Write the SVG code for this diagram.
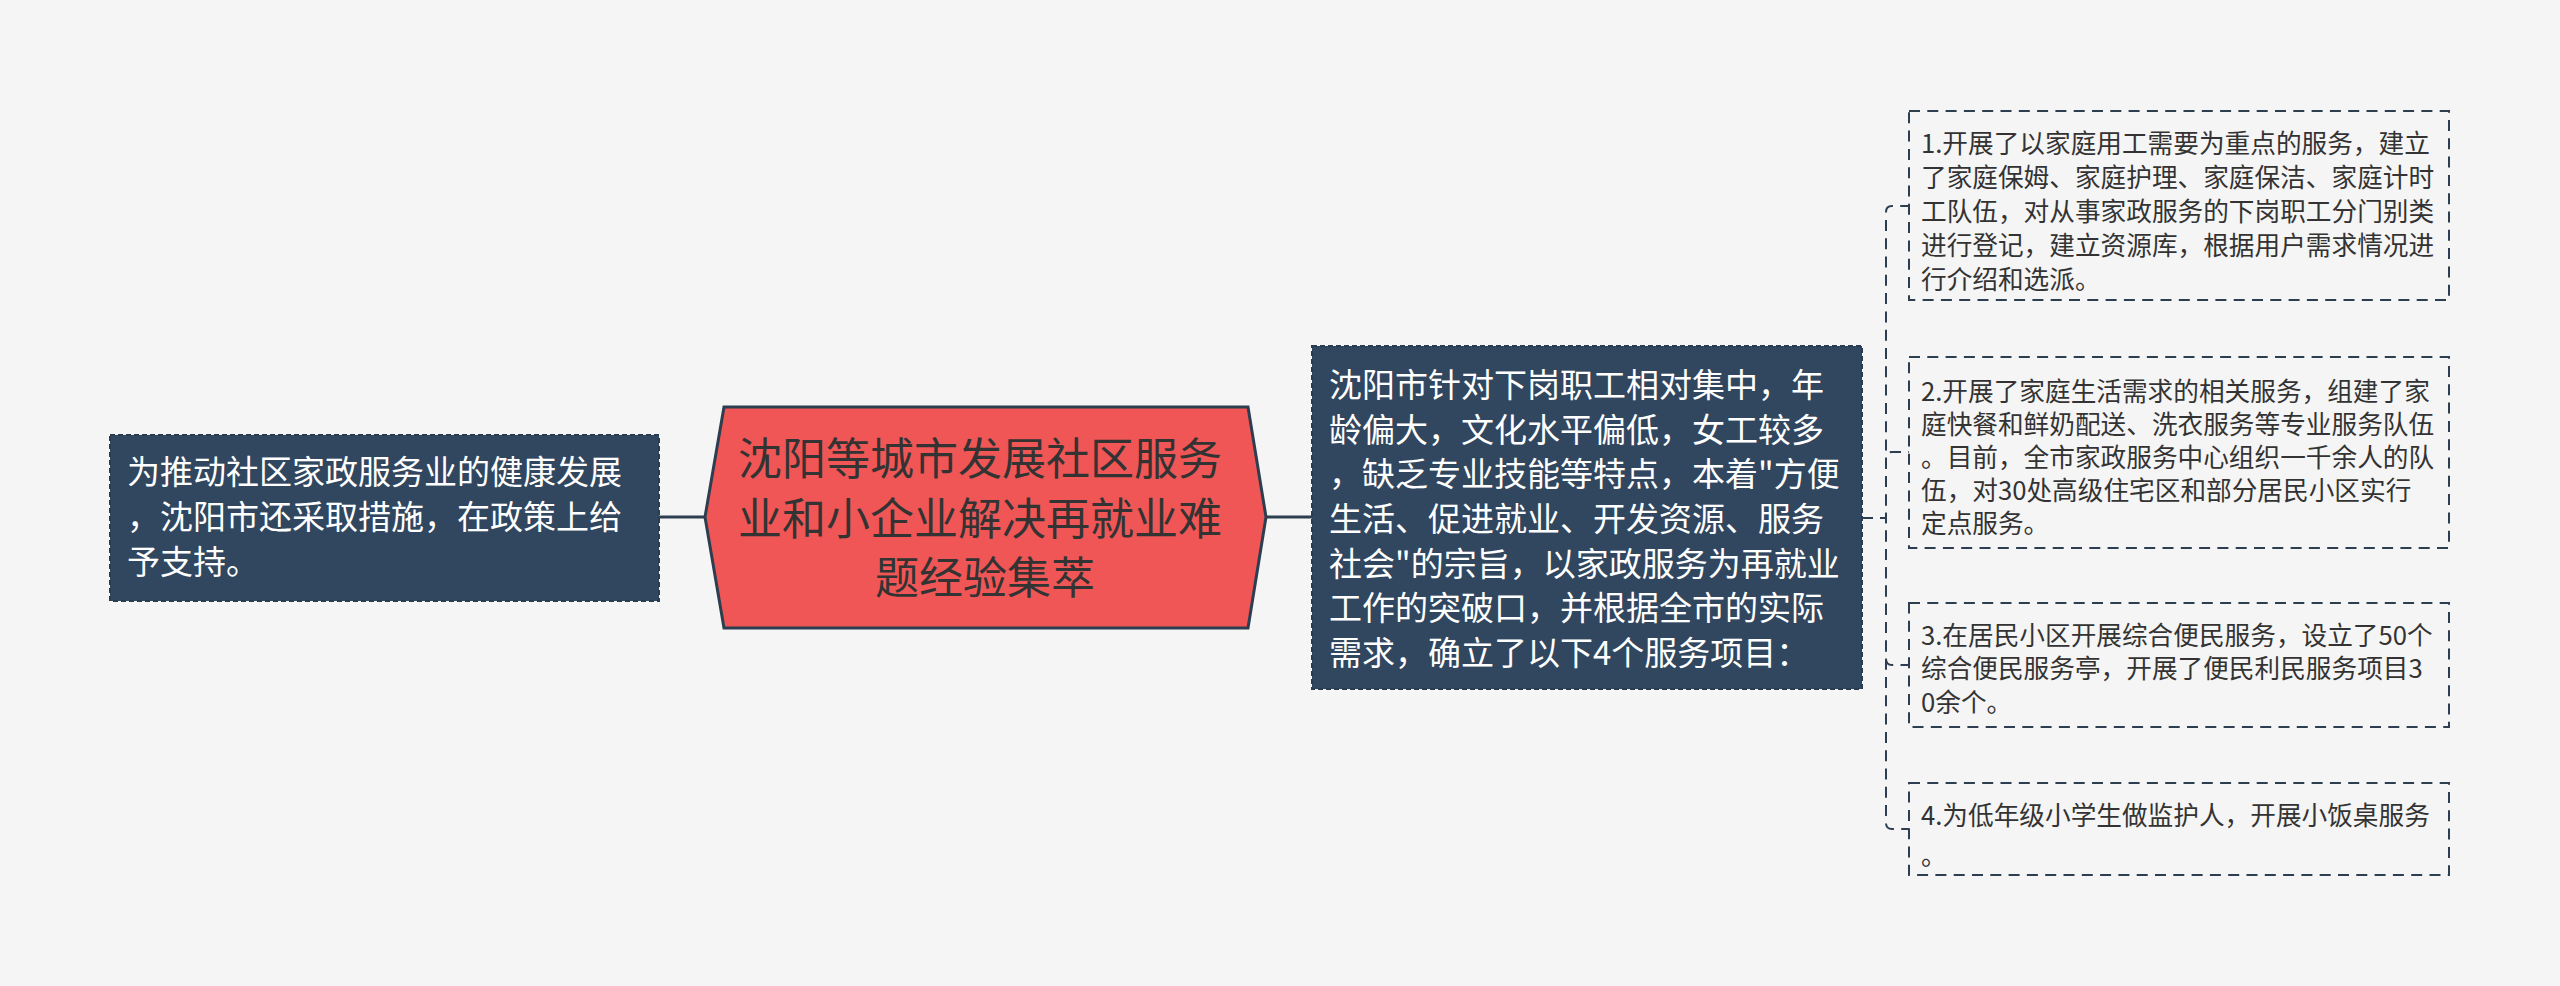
<svg xmlns="http://www.w3.org/2000/svg" width="2560" height="986" viewBox="0 0 2560 986">
<style>
.t{font-family:"Noto Sans CJK SC","Noto Sans",sans-serif}
.dark rect{fill:#31475f;stroke:#2a3c50;stroke-width:2;stroke-dasharray:5 3}
.dark text{fill:#ffffff;font-size:33px}
.item rect{fill:none;stroke:#2c3e50;stroke-width:2;stroke-dasharray:11 7.3}
.item text{fill:#333333;font-size:25.67px}
.solid{fill:none;stroke:#2c3e50;stroke-width:3}
.dash{fill:none;stroke:#2c3e50;stroke-width:2;stroke-dasharray:11 7.3}
</style>
<rect x="0" y="0" width="2560" height="986" fill="#f5f5f5"/>
<g id="connectors">
<path class="solid" d="M659,517 H705"/>
<path class="solid" d="M1266,517 H1312"/>
<path class="dash" d="M1862,518 H1886 V212 Q1886,206 1892,206 H1909"/>
<path class="dash" d="M1862,518 H1886 V458 Q1886,452 1892,452 H1909"/>
<path class="dash" d="M1862,518 H1886 V659 Q1886,665 1892,665 H1909"/>
<path class="dash" d="M1862,518 H1886 V823 Q1886,829 1892,829 H1909"/>
</g>
<g id="center">
<polygon points="705,517 724,407 1248,407 1266,517 1248,628 724,628" fill="#f05656" stroke="#2c3e50" stroke-width="3"/>
<text class="t" font-size="44" fill="#333333" text-anchor="middle">
<tspan x="985" y="475">沈阳等城市发展社区服务</tspan>
<tspan x="985" y="535">业和小企业解决再就业难</tspan>
<tspan x="985" y="594">题经验集萃</tspan>
</text>
</g>
<g id="left" class="dark">
<rect x="110" y="435" width="549" height="166"/>
<text class="t">
<tspan x="127" y="484">为推动社区家政服务业的健康发展</tspan>
<tspan x="127" y="529">，沈阳市还采取措施，在政策上给</tspan>
<tspan x="127" y="574">予支持。</tspan>
</text>
</g>
<g id="right" class="dark">
<rect x="1312" y="346" width="550" height="343"/>
<text class="t">
<tspan x="1329" y="397">沈阳市针对下岗职工相对集中，年</tspan>
<tspan x="1329" y="442">龄偏大，文化水平偏低，女工较多</tspan>
<tspan x="1329" y="486">，缺乏专业技能等特点，本着"方便</tspan>
<tspan x="1329" y="531">生活、促进就业、开发资源、服务</tspan>
<tspan x="1329" y="576">社会"的宗旨，以家政服务为再就业</tspan>
<tspan x="1329" y="620">工作的突破口，并根据全市的实际</tspan>
<tspan x="1329" y="665">需求，确立了以下4个服务项目：</tspan>
</text>
</g>
<g id="item1" class="item">
<rect x="1909" y="111" width="540" height="189"/>
<text class="t">
<tspan x="1921" y="153">1.开展了以家庭用工需要为重点的服务，建立</tspan>
<tspan x="1921" y="187">了家庭保姆、家庭护理、家庭保洁、家庭计时</tspan>
<tspan x="1921" y="221">工队伍，对从事家政服务的下岗职工分门别类</tspan>
<tspan x="1921" y="255">进行登记，建立资源库，根据用户需求情况进</tspan>
<tspan x="1921" y="289">行介绍和选派。</tspan>
</text>
</g>
<g id="item2" class="item">
<rect x="1909" y="357" width="540" height="191"/>
<text class="t">
<tspan x="1921" y="401">2.开展了家庭生活需求的相关服务，组建了家</tspan>
<tspan x="1921" y="434">庭快餐和鲜奶配送、洗衣服务等专业服务队伍</tspan>
<tspan x="1921" y="467">。目前，全市家政服务中心组织一千余人的队</tspan>
<tspan x="1921" y="500">伍，对30处高级住宅区和部分居民小区实行</tspan>
<tspan x="1921" y="533">定点服务。</tspan>
</text>
</g>
<g id="item3" class="item">
<rect x="1909" y="603" width="540" height="124"/>
<text class="t">
<tspan x="1921" y="645">3.在居民小区开展综合便民服务，设立了50个</tspan>
<tspan x="1921" y="678">综合便民服务亭，开展了便民利民服务项目3</tspan>
<tspan x="1921" y="712">0余个。</tspan>
</text>
</g>
<g id="item4" class="item">
<rect x="1909" y="783" width="540" height="92"/>
<text class="t">
<tspan x="1921" y="825">4.为低年级小学生做监护人，开展小饭桌服务</tspan>
<tspan x="1921" y="865">。</tspan>
</text>
</g>
</svg>
